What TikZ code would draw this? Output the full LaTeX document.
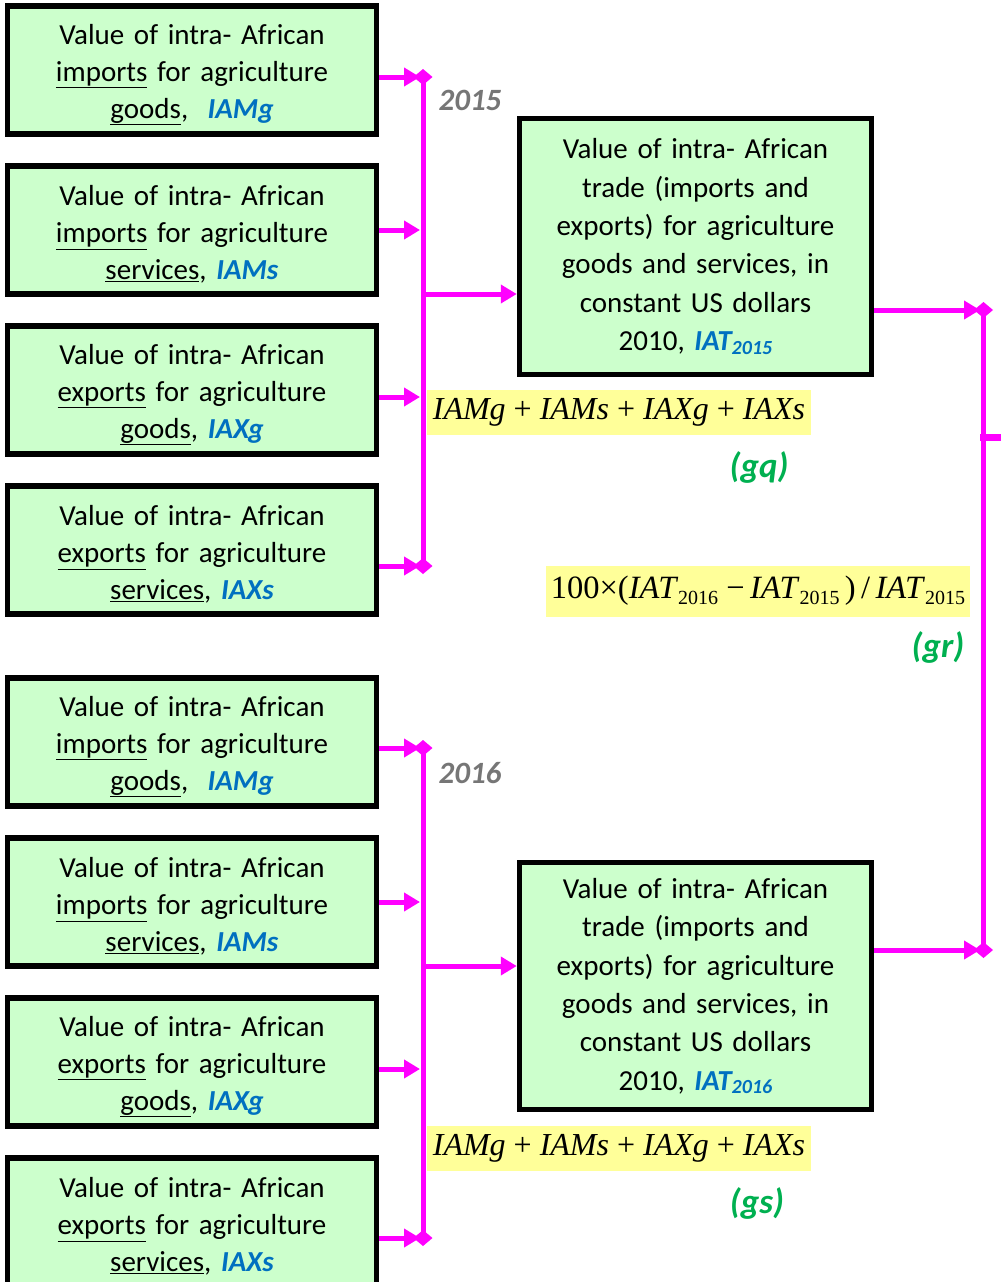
\documentclass[tikz,border=0pt]{standalone}
\usepackage{fontspec}
\setmainfont{Carlito}
\newfontfamily\tms{Liberation Serif}
\usetikzlibrary{arrows.meta}
\definecolor{boxgreen}{HTML}{CCFFCC}
\definecolor{mag}{HTML}{FF00FF}
\definecolor{vblue}{HTML}{0070C0}
\definecolor{lgreen}{HTML}{00B050}
\definecolor{yel}{HTML}{FFFF99}
\definecolor{gry}{HTML}{767676}
\newcommand{\vb}[1]{\textcolor{vblue}{\textbf{\textit{#1}}}}
\newcommand{\iat}[1]{\textcolor{vblue}{\textbf{\textit{IAT\raisebox{-0.25ex}{\fontsize{20}{20}\selectfont #1}}}}}
\newcommand{\mi}[1]{\textit{#1}}
\newcommand{\msub}[1]{\raisebox{-0.35ex}{\fontsize{20}{20}\selectfont #1}}
\begin{document}
\begin{tikzpicture}[x=1pt,y=-1pt,
  inbox/.style={draw=black,line width=5.5pt,fill=boxgreen,minimum width=369pt,minimum height=128pt,
    inner sep=0pt,align=center,text width=360pt,font=\fontsize{29}{37}\selectfont,
    execute at begin node={\rule{0pt}{29pt}}},
  bigbox/.style={draw=black,line width=5.5pt,fill=boxgreen,minimum width=352pt,
    inner sep=0pt,align=center,text width=340pt,font=\fontsize{29}{38.4}\selectfont},
  conn/.style={draw=mag,line width=5pt},
  arr/.style={conn,-{Triangle[length=16pt,width=18pt]}},
  trunk/.style={conn,{Diamond[length=16pt,width=19pt]}-{Diamond[length=16pt,width=19pt]}},
  yearlbl/.style={text=gry,font=\fontsize{31}{31}\selectfont\bfseries\itshape,inner sep=0pt},
  eqlbl/.style={text=lgreen,font=\fontsize{35}{35}\selectfont\bfseries\itshape,inner sep=0pt},
  formula/.style={fill=yel,inner sep=0pt,font=\tms\fontsize{32}{32}\selectfont}
]
\useasboundingbox (0,0) rectangle (1001,1282);

% ---------- 2015 group ----------
\node[inbox] (a1) at (192,70) {Value of intra- African\\\underline{imports} for agriculture\\\underline{goods},\ \ \vb{IAMg}};
\node[inbox] (a2) at (192,230) {Value of intra- African\\\underline{imports} for agriculture\\\underline{services}, \vb{IAMs}};
\node[inbox] (a3) at (192,390) {Value of intra- African\\\underline{exports} for agriculture\\\underline{goods}, \vb{IAXg}};
\node[inbox] (a4) at (192,550) {Value of intra- African\\\underline{exports} for agriculture\\\underline{services}, \vb{IAXs}};

\node[bigbox,minimum height=256pt] (t1) at (695.5,246.5) {Value of intra- African\\trade (imports and\\exports) for agriculture\\goods and services, in\\constant US dollars\\2010, \iat{2015}};

\coordinate (ta) at (423,69);
\coordinate (tb) at (423,574);
\draw[trunk] (ta) -- (tb);
\coordinate (p1) at (420,77);
\coordinate (p2) at (420,230);
\coordinate (p3) at (420,397);
\coordinate (p4) at (420,566);
\draw[arr] (a1.east |- p1) -- (p1);
\draw[arr] (a2.east |- p2) -- (p2);
\draw[arr] (a3.east |- p3) -- (p3);
\draw[arr] (a4.east |- p4) -- (p4);
\coordinate (m1) at (423,294);
\draw[arr] (m1) -- (t1.west |- m1);

\node[yearlbl] (y1) at (470,100) {2015};
\node[formula,minimum width=384pt,minimum height=45pt] (f1) at (619,412)
  {\mi{IAMg} + \mi{IAMs} + \mi{IAXg} + \mi{IAXs}};
\node[eqlbl] (gq) at (759,467) {(gq)};

% ---------- 2016 group ----------
\node[inbox] (b1) at (192,742) {Value of intra- African\\\underline{imports} for agriculture\\\underline{goods},\ \ \vb{IAMg}};
\node[inbox] (b2) at (192,902) {Value of intra- African\\\underline{imports} for agriculture\\\underline{services}, \vb{IAMs}};
\node[inbox] (b3) at (192,1062) {Value of intra- African\\\underline{exports} for agriculture\\\underline{goods}, \vb{IAXg}};
\node[inbox] (b4) at (192,1222) {Value of intra- African\\\underline{exports} for agriculture\\\underline{services}, \vb{IAXs}};

\node[bigbox,minimum height=247pt] (t2) at (695.5,986) {Value of intra- African\\trade (imports and\\exports) for agriculture\\goods and services, in\\constant US dollars\\2010, \iat{2016}};

\coordinate (tc) at (423,740);
\coordinate (td) at (423,1246);
\draw[trunk] (tc) -- (td);
\coordinate (q1) at (420,748);
\coordinate (q2) at (420,902);
\coordinate (q3) at (420,1069);
\coordinate (q4) at (420,1238);
\draw[arr] (b1.east |- q1) -- (q1);
\draw[arr] (b2.east |- q2) -- (q2);
\draw[arr] (b3.east |- q3) -- (q3);
\draw[arr] (b4.east |- q4) -- (q4);
\coordinate (m2) at (423,966);
\draw[arr] (m2) -- (t2.west |- m2);

\node[yearlbl] (y2) at (470,773) {2016};
\node[formula,minimum width=384pt,minimum height=45pt] (f3) at (619,1148)
  {\mi{IAMg} + \mi{IAMs} + \mi{IAXg} + \mi{IAXs}};
\node[eqlbl] (gs) at (757,1203) {(gs)};

% ---------- growth rate ----------
\coordinate (ra) at (983.5,302);
\coordinate (rb) at (983.5,958);
\draw[trunk] (ra) -- (rb);
\coordinate (r1) at (980,310);
\coordinate (r2) at (980,950);
\draw[arr] (t1.east |- r1) -- (r1);
\draw[arr] (t2.east |- r2) -- (r2);
\coordinate (s0) at (980,437);
\coordinate (s1) at (1001,437);
\draw[draw=mag,line width=7pt] (s0) -- (s1);

\node[formula,minimum width=424pt,minimum height=51pt,font=\tms\fontsize{32.5}{32.5}\selectfont] (f2) at (758,591)
  {100×(\mi{IAT}\msub{2016} −\,\mi{IAT}\msub{2015}\,)\,/\,\mi{IAT}\msub{2015}};
\node[eqlbl] (gr) at (938,647) {(gr)};
\end{tikzpicture}
\end{document}
